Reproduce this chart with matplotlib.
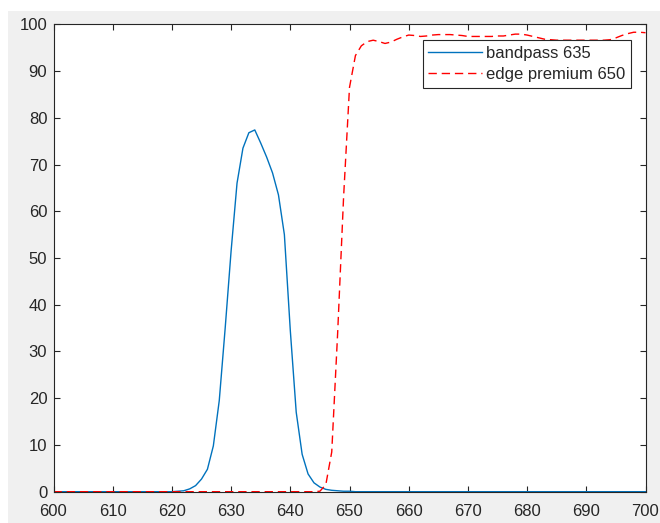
import matplotlib
matplotlib.use('Agg')
import matplotlib.pyplot as plt
from matplotlib.patches import Rectangle

wavelength = list(range(600, 701))

bandpass_635 = [
    0.0, 0.0, 0.0, 0.0, 0.0, 0.0, 0.0, 0.0, 0.0, 0.0,   # 600-609
    0.0, 0.0, 0.0, 0.0, 0.0, 0.0, 0.0, 0.0, 0.0, 0.0,   # 610-619
    0.0, 0.1, 0.2, 0.6, 1.3, 2.7, 4.8, 9.8, 19.5, 35.0,  # 620-629
    51.5, 66.0, 73.5, 76.8, 77.4, 74.6, 71.6, 68.2, 63.5, 55.0,  # 630-639
    34.5, 17.0, 8.0, 3.8, 1.9, 1.0, 0.5, 0.3, 0.2, 0.1,  # 640-649
    0.1, 0.0, 0.0, 0.0, 0.0, 0.0, 0.0, 0.0, 0.0, 0.0,   # 650-659
    0.0, 0.0, 0.0, 0.0, 0.0, 0.0, 0.0, 0.0, 0.0, 0.0,   # 660-669
    0.0, 0.0, 0.0, 0.0, 0.0, 0.0, 0.0, 0.0, 0.0, 0.0,   # 670-679
    0.0, 0.0, 0.0, 0.0, 0.0, 0.0, 0.0, 0.0, 0.0, 0.0,   # 680-689
    0.0, 0.0, 0.0, 0.0, 0.0, 0.0, 0.0, 0.0, 0.0, 0.0,   # 690-699
    0.0,                                                # 700
]

edge_premium_650 = [
    0.0, 0.0, 0.0, 0.0, 0.0, 0.0, 0.0, 0.0, 0.0, 0.0,   # 600-609
    0.0, 0.0, 0.0, 0.0, 0.0, 0.0, 0.0, 0.0, 0.0, 0.0,   # 610-619
    0.0, 0.0, 0.0, 0.0, 0.0, 0.0, 0.0, 0.0, 0.0, 0.0,   # 620-629
    0.0, 0.0, 0.0, 0.0, 0.0, 0.0, 0.0, 0.0, 0.0, 0.0,   # 630-639
    0.0, 0.0, 0.0, 0.0, 0.0, 0.1, 1.5, 8.5, 34.0, 63.0,  # 640-649
    86.5, 93.3, 95.4, 96.3, 96.6, 96.3, 95.9, 96.2, 96.8, 97.3,  # 650-659
    97.7, 97.6, 97.4, 97.5, 97.7, 97.8, 97.8, 97.8, 97.7, 97.6,  # 660-669
    97.4, 97.4, 97.4, 97.4, 97.4, 97.5, 97.5, 97.7, 97.9, 97.9,  # 670-679
    97.7, 97.4, 97.1, 96.8, 96.7, 96.6, 96.6, 96.6, 96.6, 96.6,  # 680-689
    96.6, 96.6, 96.6, 96.6, 96.7, 97.1, 97.6, 98.0, 98.3, 98.3,  # 690-699
    98.2,                                               # 700
]

plt.rcParams['font.family'] = ['Liberation Sans', 'DejaVu Sans']

fig = plt.figure(figsize=(6.6, 5.23), dpi=100, facecolor='white')
# grey figure area with a thin white strip on the left and top
fig.patches.append(Rectangle((8 / 660, 0), 1, 1 - 11 / 523, transform=fig.transFigure,
                             facecolor='#f0f0f0', edgecolor='none', zorder=-10))

ax = fig.add_axes([53.5 / 660, 1 - 491.7 / 523, 592 / 660, 467.4 / 523])
ax.set_facecolor('white')

ax.plot(wavelength, bandpass_635, color='#0072bd', linewidth=1.0, label='bandpass 635')
ax.plot(wavelength, edge_premium_650, color='#ff0000', linewidth=1.0,
        dashes=(6, 3.5), label='edge premium 650')

ax.set_xlim(600, 700)
ax.set_ylim(0, 100)
ax.set_xticks(range(600, 701, 10))
ax.set_yticks(range(0, 101, 10))
ax.tick_params(direction='in', length=4.5, width=0.8, colors='#262626',
               labelsize=12, top=True, right=True)
ax.tick_params(axis='x', pad=9)
ax.tick_params(axis='y', pad=4.5)
for s in ax.spines.values():
    s.set_color('#262626')
    s.set_linewidth(0.8)

leg = ax.legend(loc='upper right', bbox_to_anchor=(631 / 660, 1 - 40 / 523),
                bbox_transform=fig.transFigure, borderaxespad=0,
                fontsize=12, fancybox=False, framealpha=1, edgecolor='#262626',
                handlelength=3.2, handletextpad=0.25, labelspacing=0.37,
                borderpad=0.35)
leg.get_frame().set_linewidth(0.8)
for t in leg.get_texts():
    t.set_color('#262626')

fig.savefig('out.png', dpi=100, facecolor=fig.get_facecolor())
